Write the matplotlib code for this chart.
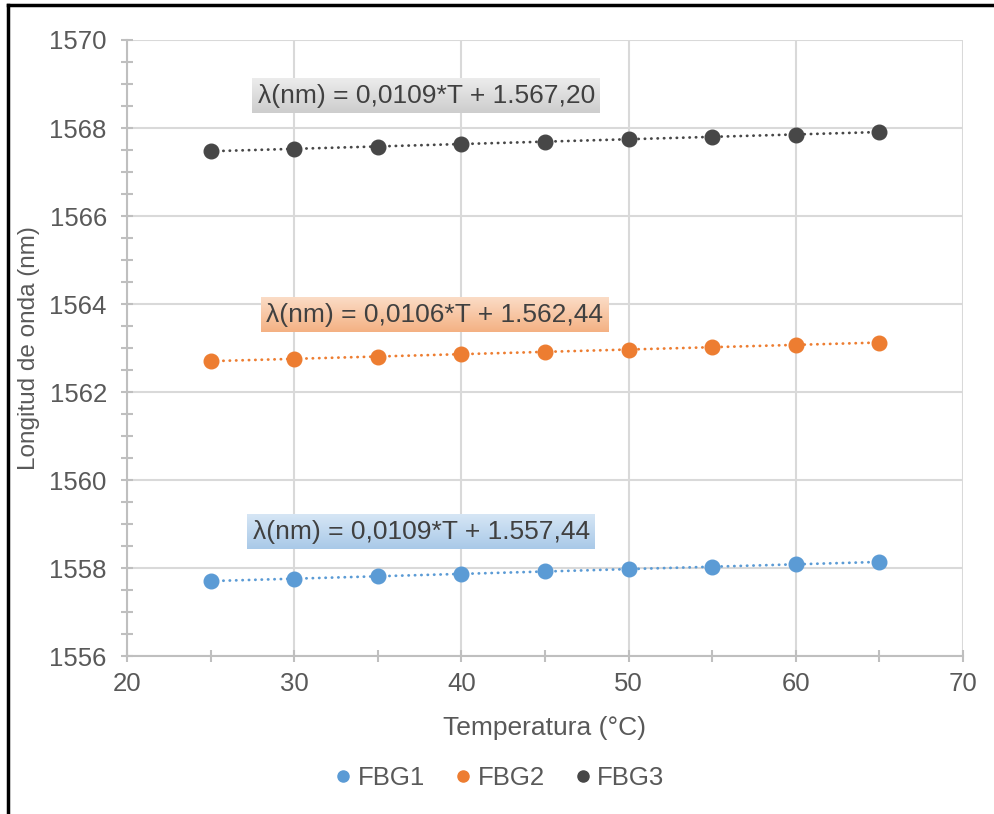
import numpy as np
import matplotlib
matplotlib.use("Agg")
import matplotlib.pyplot as plt
from matplotlib.lines import Line2D
from matplotlib.colors import to_rgb

plt.rcParams['font.family'] = ['Liberation Sans', 'DejaVu Sans']

temp = [25, 30, 35, 40, 45, 50, 55, 60, 65]
fbg1 = [1557.71, 1557.77, 1557.82, 1557.88, 1557.93, 1557.98, 1558.04, 1558.09, 1558.15]
fbg2 = [1562.71, 1562.76, 1562.81, 1562.86, 1562.92, 1562.97, 1563.02, 1563.08, 1563.13]
fbg3 = [1567.47, 1567.53, 1567.58, 1567.64, 1567.69, 1567.75, 1567.80, 1567.85, 1567.91]
names = ['FBG1', 'FBG2', 'FBG3']
colors = ['#5b9bd5', '#ed7d31', '#474747']
eq_text = ['λ(nm) = 0,0109*T + 1.557,44',
           'λ(nm) = 0,0106*T + 1.562,44',
           'λ(nm) = 0,0109*T + 1.567,20']
eq_pos = [(37.6, 1558.83), (38.4, 1563.75), (37.9, 1568.73)]
# gradient top / bottom colours of the label boxes
eq_top = ['#d6e6f5', '#fbdcc6', '#ececec']
eq_bot = ['#a9c9e8', '#f4b183', '#cdcdcd']

txt = '#595959'
fig = plt.figure(figsize=(9.95, 8.14), dpi=100)
ax = fig.add_axes([0.1276, 0.1935, 0.8402, 0.7574])

for ys, c, n in zip([fbg1, fbg2, fbg3], colors, names):
    k, b = np.polyfit(temp, ys, 1)
    xs = np.array([temp[0], temp[-1]])
    ax.plot(xs, k * xs + b, color=c, lw=2.0, linestyle=(0, (0.1, 2.2)),
            dash_capstyle='round', zorder=3)
    ax.plot(temp, ys, 'o', color=c, markersize=10.5, zorder=4, label=n)

ax.set_xlim(20, 70)
ax.set_ylim(1556, 1570)

labels = []
for t, (x, y) in zip(eq_text, eq_pos):
    labels.append(ax.text(x, y, t, ha='center', va='center', fontsize=19, color='#404040',
                          bbox=dict(boxstyle='square,pad=0.2', fc='none', ec='none'), zorder=6))

# gradient boxes behind the equation labels
fig.canvas.draw()
inv = ax.transData.inverted()
for lab, top, bot in zip(labels, eq_top, eq_bot):
    ext = lab.get_bbox_patch().get_window_extent()
    (x0, y0), (x1, y1) = inv.transform([[ext.x0, ext.y0], [ext.x1, ext.y1]])
    t = np.linspace(0, 1, 64)[:, None, None]
    grad = (1 - t) * np.array(to_rgb(top)) + t * np.array(to_rgb(bot))
    grad = np.repeat(grad, 2, axis=1)
    ax.imshow(grad, extent=[x0, x1, y0, y1], origin='upper', aspect='auto', zorder=5)

ax.set_xlim(20, 70)
ax.set_ylim(1556, 1570)
ax.set_xticks(range(20, 71, 10))
ax.set_xticks(range(25, 70, 10), minor=True)
ax.set_yticks(range(1556, 1571, 2))
ax.set_yticks(np.arange(1556.5, 1570, 0.5), minor=True)
ax.grid(True, which='major', color='#d9d9d9', lw=1.5, zorder=0)
ax.set_axisbelow(True)

for s in ['top', 'right']:
    ax.spines[s].set_visible(False)
for s in ['left', 'bottom']:
    ax.spines[s].set_color('#bfbfbf')
    ax.spines[s].set_linewidth(1.5)

ax.tick_params(which='both', direction='inout', length=9, width=1.5, color='#bfbfbf')
ax.tick_params(which='major', labelsize=18.5, labelcolor=txt)
ax.tick_params(axis='y', which='major', pad=10)
ax.tick_params(axis='x', which='major', pad=7)

ax.set_xlabel('Temperatura (°C)', fontsize=19, color=txt, labelpad=14)
ax.set_ylabel('Longitud de onda (nm)', fontsize=17.5, color=txt, labelpad=7)

handles = [Line2D([], [], marker='o', color=c, linestyle='none', markersize=8) for c in colors]
fig.legend(handles, names, loc='center', bbox_to_anchor=(0.5, 0.044), ncol=3, frameon=False,
           fontsize=18.5, labelcolor=txt, handletextpad=0.05, columnspacing=1.0, handlelength=1.0)

fig.add_artist(Line2D([8 / 995, 8 / 995], [0, 1 - 5 / 814], color='black', lw=2.5))
fig.add_artist(Line2D([8 / 995, 1], [1 - 5 / 814, 1 - 5 / 814], color='black', lw=2.5))

fig.savefig('out.png', dpi=100)
